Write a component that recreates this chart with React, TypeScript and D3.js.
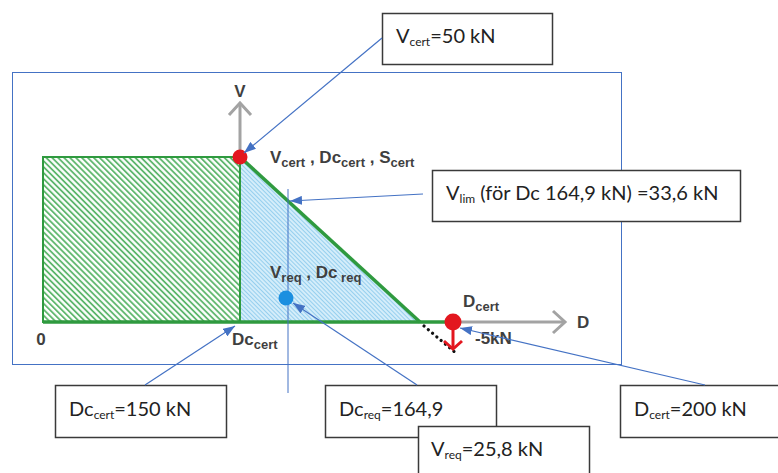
import React from "react";
import * as d3 from "d3";

// ---------- data (kN) ----------
// D-axis reference values: origin, Dc_cert, Dc_req, V=0 intercept of capacity line, D_cert
const dValues = [0, 150, 164.9, 195.4, 200];
// V-axis reference values: drop at D_cert, zero, V_req, V_lim, V_cert
const vValues = [-5, 0, 25.8, 33.6, 50];

const dcCert = 150;
const dcReq = 164.9;
const dZero = 195.4;
const dCert = 200;
const vCert = 50;
const vReq = 25.8;
const vLim = 33.6;
const vDrop = -5;

// capacity regions
const certRect = [[0, 0], [0, vCert], [dcCert, vCert], [dcCert, 0]];
const extTriangle = [[dcCert, vCert], [dcCert, 0], [dZero, 0]];
const capacityLine = [[dcCert, vCert], [dZero, 0]];
const baseLine = [[0, 0], [dCert, 0]];
const dropLine = [[dZero, 0], [dCert, vDrop]];

// callout texts: [main, subscript, rest]
const calloutTexts: [string, string, string][] = [
  ["V", "cert", "=50 kN"],
  ["V", "lim", " (för Dc 164,9 kN) =33,6 kN"],
  ["Dc", "cert", "=150 kN"],
  ["Dc", "req", "=164,9"],
  ["V", "req", "=25,8 kN"],
  ["D", "cert", "=200 kN"],
];

// ---------- layout ----------
const x = d3.scaleLinear().domain(dValues).range([43, 240, 288, 420, 453]);
const y = d3.scaleLinear().domain(vValues).range([350, 322, 298, 201, 157]);

const line = d3
  .line<number[]>()
  .x((d) => x(d[0]))
  .y((d) => y(d[1]));

const boxes = [
  { bx: 382, by: 13, w: 170, h: 51, tx: 396, ty: 43 },
  { bx: 432, by: 170, w: 308, h: 51, tx: 446, ty: 200 },
  { bx: 55, by: 385, w: 171, h: 52, tx: 69, ty: 416 },
  { bx: 325, by: 385, w: 171, h: 52, tx: 339, ty: 416 },
  { bx: 418, by: 426, w: 171, h: 62, tx: 431, ty: 456 },
  { bx: 620, by: 385, w: 172, h: 52, tx: 634, ty: 416 },
];

const BLUE = "#4472c4";
const GREEN = "#2f9a3f";
const HATCH = "#52b162";
const RED = "#e3171f";
const GRAY = "#a3a3a3";
const LABEL = "#3f3f3f";
const boxFont = "Lato, 'Open Sans', sans-serif";
const labelFont = "'Liberation Sans', Arial, sans-serif";

export default function App() {
  const cx = x(dcCert);
  const cy = y(vCert);
  const y0 = y(0);
  const xd = x(dCert);
  const xr = x(dcReq);
  const yDrop = y(vDrop);

  const leaders = [
    { from: [382, 38], to: [cx + 4, cy - 4] },
    { from: [423, 194], to: [xr + 2, y(vLim)] },
    { from: [145, 385], to: [cx - 5, y0 + 4] },
    { from: [417, 385], to: [xr + 5, y(vReq) + 5] },
    { from: [705, 385], to: [xd + 7, y0 + 6] },
  ];

  return (
    <svg width={778} height={473} style={{ position: "absolute", left: 0, top: 0, background: "#fff" }}>
      <defs>
        <pattern id="greenHatch" width="4.2" height="4.2" patternUnits="userSpaceOnUse" patternTransform="rotate(-45)">
          <rect width="4.2" height="4.2" fill="#fff" />
          <line x1="1" y1="0" x2="1" y2="4.2" stroke={HATCH} strokeWidth="1.7" />
        </pattern>
        <pattern id="blueHatch" width="3" height="3" patternUnits="userSpaceOnUse" patternTransform="rotate(-45)">
          <rect width="3" height="3" fill="#d4edfa" />
          <line x1="0.5" y1="0" x2="0.5" y2="3" stroke="#96cfee" strokeWidth="1" />
        </pattern>
        <marker id="arrow" viewBox="0 0 12 9" refX="12" refY="4.5" markerWidth="12" markerHeight="9" markerUnits="userSpaceOnUse" orient="auto">
          <path d="M0,0 L12,4.5 L0,9 z" fill={BLUE} />
        </marker>
      </defs>

      {/* outer frame */}
      <rect x={12.5} y={72.5} width={609} height={292} fill="none" stroke={BLUE} strokeWidth={1} />

      {/* axes */}
      <line x1={cx} y1={cy} x2={cx} y2={103} stroke={GRAY} strokeWidth={3} />
      <polyline points={`${cx - 11},${115} ${cx},${103} ${cx + 11},${115}`} fill="none" stroke={GRAY} strokeWidth={3} />
      <line x1={xd} y1={y0} x2={565} y2={y0} stroke={GRAY} strokeWidth={3} />
      <polyline points={`${553},${y0 - 11} ${565},${y0} ${553},${y0 + 11}`} fill="none" stroke={GRAY} strokeWidth={3} />
      <text x={cx} y={97} textAnchor="middle" fontFamily={labelFont} fontWeight="bold" fontSize={17} fill={LABEL}>V</text>
      <text x={577} y={328} fontFamily={labelFont} fontWeight="bold" fontSize={17} fill={LABEL}>D</text>

      {/* regions */}
      <path d={line(extTriangle as number[][]) + "Z"} fill="url(#blueHatch)" stroke="none" />
      <path d={line(certRect as number[][]) + "Z"} fill="url(#greenHatch)" stroke={GREEN} strokeWidth={2} />
      <path d={line(capacityLine as number[][])!} fill="none" stroke={GREEN} strokeWidth={3.5} />
      <path d={line(baseLine as number[][])!} fill="none" stroke={GREEN} strokeWidth={3.5} />
      <path d={line(dropLine as number[][])!} fill="none" stroke="#111" strokeWidth={3.2} strokeDasharray="0.1 5.5" strokeLinecap="round" transform="translate(4,4)" />

      {/* required vertical line */}
      <line x1={xr} y1={189} x2={xr} y2={393} stroke={BLUE} strokeWidth={1} />

      {/* points */}
      <circle cx={cx} cy={cy} r={7.5} fill={RED} />
      <circle cx={xd} cy={y0} r={8.5} fill={RED} />
      <line x1={xd} y1={y0 + 6} x2={xd} y2={yDrop - 1} stroke={RED} strokeWidth={3} />
      <polyline points={`${xd - 9},${yDrop - 9} ${xd},${yDrop - 1} ${xd + 9},${yDrop - 9}`} fill="none" stroke={RED} strokeWidth={3} />
      <circle cx={xr - 2} cy={y(vReq)} r={7.5} fill="#1b8fe0" />

      {/* diagram labels */}
      <g fontFamily={labelFont} fontWeight="bold" fill={LABEL} fontSize={17}>
        <text x={41} y={345} textAnchor="middle">0</text>
        <text x={232} y={345}>Dc<tspan fontSize={13} dy={4}>cert</tspan></text>
        <text x={270} y={163}>
          V<tspan fontSize={13} dy={4}>cert</tspan>
          <tspan dy={-4}> , Dc</tspan><tspan fontSize={13} dy={4}>cert</tspan>
          <tspan dy={-4}> , S</tspan><tspan fontSize={13} dy={4}>cert</tspan>
        </text>
        <text x={270} y={278}>
          V<tspan fontSize={13} dy={4}>req</tspan>
          <tspan dy={-4}> , Dc</tspan><tspan fontSize={13} dy={4}> req</tspan>
        </text>
        <text x={463} y={307}>D<tspan fontSize={13} dy={4}>cert</tspan></text>
        <text x={475} y={344}>-5kN</text>
      </g>

      {/* callout boxes */}
      {boxes.map((b, i) => (
        <g key={i}>
          <rect x={b.bx + 0.5} y={b.by + 0.5} width={b.w} height={b.h} fill="#fff" stroke="#3a3a3a" strokeWidth={1.5} />
          <text x={b.tx} y={b.ty} fontFamily={boxFont} fontSize={20} fill="#222">
            {calloutTexts[i][0]}
            <tspan fontSize={12} dy={3}>{calloutTexts[i][1]}</tspan>
            <tspan dy={-3}>{calloutTexts[i][2]}</tspan>
          </text>
        </g>
      ))}

      {/* leader lines */}
      {leaders.map((l, i) => (
        <line key={i} x1={l.from[0]} y1={l.from[1]} x2={l.to[0]} y2={l.to[1]} stroke={BLUE} strokeWidth={1.2} markerEnd="url(#arrow)" />
      ))}
    </svg>
  );
}
